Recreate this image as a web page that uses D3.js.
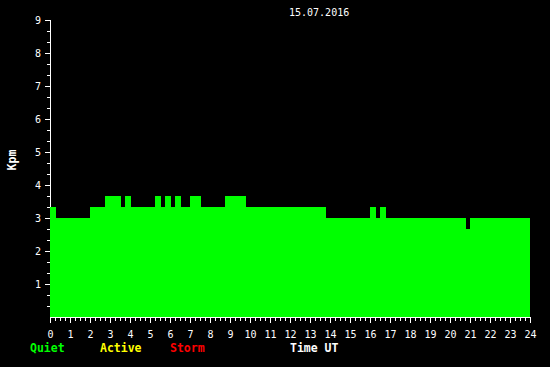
<!DOCTYPE html>
<html>
<head>
<meta charset="utf-8">
<script src="https://cdn.jsdelivr.net/npm/d3@7"></script>
<style>
  html, body { margin: 0; padding: 0; background: #000; }
  svg { display: block; }
  text { font-family: "DejaVu Sans Mono", monospace; fill: #fff; }
</style>
</head>
<body>
<div id="chart"></div>
<script>
// Kpm index, 15.07.2016 - segment start/end in hours UT and value
const segStart = [0, 0.3, 2.0, 2.75, 3.55, 3.75, 4.05, 5.25, 5.55, 5.75, 6.05, 6.25, 6.55, 7.0, 7.55, 8.75, 9.8, 13.8, 16.0, 16.3, 16.5, 16.8, 20.8, 21.0];
const segEnd   = [0.3, 2.0, 2.75, 3.55, 3.75, 4.05, 5.25, 5.55, 5.75, 6.05, 6.25, 6.55, 7.0, 7.55, 8.75, 9.8, 13.8, 16.0, 16.3, 16.5, 16.8, 20.8, 21.0, 24.0];
const kpm      = [3.33, 3.0, 3.33, 3.67, 3.33, 3.67, 3.33, 3.67, 3.33, 3.67, 3.33, 3.67, 3.33, 3.67, 3.33, 3.67, 3.33, 3.0, 3.33, 3.0, 3.33, 3.0, 2.67, 3.0];

const hourTicks = d3.range(0, 25);
const kpTicks = d3.range(1, 10);
const legendNames = ['Quiet', 'Active', 'Storm'];
const legendColors = ['#00ff00', '#ffff00', '#ff0000'];

const width = 550;
const height = 367;
const margin = { top: 20, right: 20, bottom: 50, left: 50 };

const svg = d3.select('#chart')
  .append('svg')
  .attr('width', width)
  .attr('height', height);

svg.append('rect')
  .attr('width', width)
  .attr('height', height)
  .attr('fill', '#000');

const x = d3.scaleLinear()
  .domain([0, 24])
  .range([margin.left, width - margin.right]);

const y = d3.scaleLinear()
  .domain([0, 9])
  .range([height - margin.bottom, margin.top]);

const y0 = y(0);

// y axis line + ticks
svg.append('line')
  .attr('x1', 50.5).attr('x2', 50.5)
  .attr('y1', y(9)).attr('y2', y0)
  .attr('stroke', '#fff');

const yMinor = d3.range(1, 28).map(d => d / 3);
svg.append('g')
  .selectAll('line')
  .data(yMinor)
  .enter()
  .append('line')
  .attr('x1', d => Math.abs(d - Math.round(d)) < 0.01 ? 45 : 47)
  .attr('x2', 50)
  .attr('y1', d => Math.round(y(d)) + 0.5)
  .attr('y2', d => Math.round(y(d)) + 0.5)
  .attr('stroke', '#fff');

svg.append('g')
  .selectAll('text')
  .data(kpTicks)
  .enter()
  .append('text')
  .attr('x', 41)
  .attr('y', d => Math.round(y(d)) + 4)
  .attr('text-anchor', 'end')
  .attr('font-size', 10)
  .text(d => d);

// bars
svg.append('g')
  .selectAll('rect')
  .data(kpm)
  .enter()
  .append('rect')
  .attr('x', (d, i) => x(segStart[i]))
  .attr('y', d => y(d))
  .attr('width', (d, i) => x(segEnd[i]) - x(segStart[i]) + 0.3)
  .attr('height', d => y0 - y(d))
  .attr('fill', '#00ff00')
  .attr('shape-rendering', 'crispEdges');

// x axis line + ticks
svg.append('line')
  .attr('x1', x(0)).attr('x2', x(24) + 1)
  .attr('y1', y0 + 0.5).attr('y2', y0 + 0.5)
  .attr('stroke', '#fff');

const xMinor = d3.range(0, 97).map(d => d / 4);
svg.append('g')
  .selectAll('line')
  .data(xMinor)
  .enter()
  .append('line')
  .attr('x1', d => Math.round(x(d)) + 0.5)
  .attr('x2', d => Math.round(x(d)) + 0.5)
  .attr('y1', y0)
  .attr('y2', d => d % 1 === 0 ? y0 + 6 : y0 + 4)
  .attr('stroke', '#fff');

svg.append('g')
  .selectAll('text')
  .data(hourTicks)
  .enter()
  .append('text')
  .attr('x', d => x(d) + 0.5)
  .attr('y', 338)
  .attr('text-anchor', 'middle')
  .attr('font-size', 10)
  .text(d => d);

// titles
svg.append('text')
  .attr('x', 289)
  .attr('y', 16)
  .attr('font-size', 10)
  .text('15.07.2016');

svg.append('text')
  .attr('transform', 'translate(16,160) rotate(-90)')
  .attr('text-anchor', 'middle')
  .attr('font-size', 11.5)
  .attr('font-weight', 'bold')
  .text('Kpm');

svg.append('text')
  .attr('x', 290)
  .attr('y', 352)
  .attr('font-size', 11.5)
  .attr('font-weight', 'bold')
  .text('Time UT');

// legend
const legendX = [30, 100, 170];
svg.append('g')
  .selectAll('text')
  .data(legendNames)
  .enter()
  .append('text')
  .attr('x', (d, i) => legendX[i])
  .attr('y', 352)
  .attr('font-size', 11.5)
  .attr('font-weight', 'bold')
  .style('fill', (d, i) => legendColors[i])
  .text(d => d);
</script>
</body>
</html>
